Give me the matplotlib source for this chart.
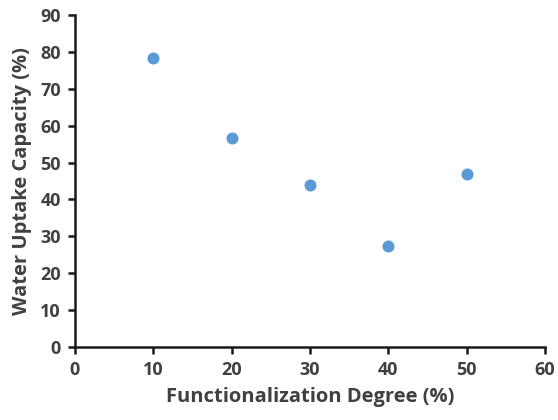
import matplotlib
matplotlib.use("Agg")
import matplotlib.pyplot as plt

degree = [10, 20, 30, 40, 50]
uptake = [78.3, 56.6, 44.0, 27.3, 47.0]
xticks = [0, 10, 20, 30, 40, 50, 60]
yticks = [0, 10, 20, 30, 40, 50, 60, 70, 80, 90]

plt.rcParams['font.family'] = ['Open Sans', 'DejaVu Sans']
fig = plt.figure(figsize=(5.58, 4.2), dpi=100)
ax = fig.add_axes([0.134, 0.174, 0.843, 0.790])
ax.scatter(degree, uptake, s=75, color='#5B9BD5', zorder=3, linewidths=0)
ax.set_xlim(0, 60)
ax.set_ylim(0, 90)
ax.set_xticks(xticks)
ax.set_yticks(yticks)
for s in ['top', 'right']:
    ax.spines[s].set_visible(False)
for s in ['left', 'bottom']:
    ax.spines[s].set_linewidth(1.8)
    ax.spines[s].set_color('#1a1a1a')
ax.tick_params(axis='both', direction='out', length=5, width=1.8, color='#1a1a1a',
               labelsize=13, labelcolor='#404040', pad=5)
for lab in ax.get_xticklabels() + ax.get_yticklabels():
    lab.set_fontweight('bold')
ax.set_xlabel('Functionalization Degree (%)', fontsize=14.5, fontweight='bold', color='#404040', labelpad=6)
ax.set_ylabel('Water Uptake Capacity (%)', fontsize=14.5, fontweight='bold', color='#404040', labelpad=6)
fig.savefig('out.png', dpi=100)
